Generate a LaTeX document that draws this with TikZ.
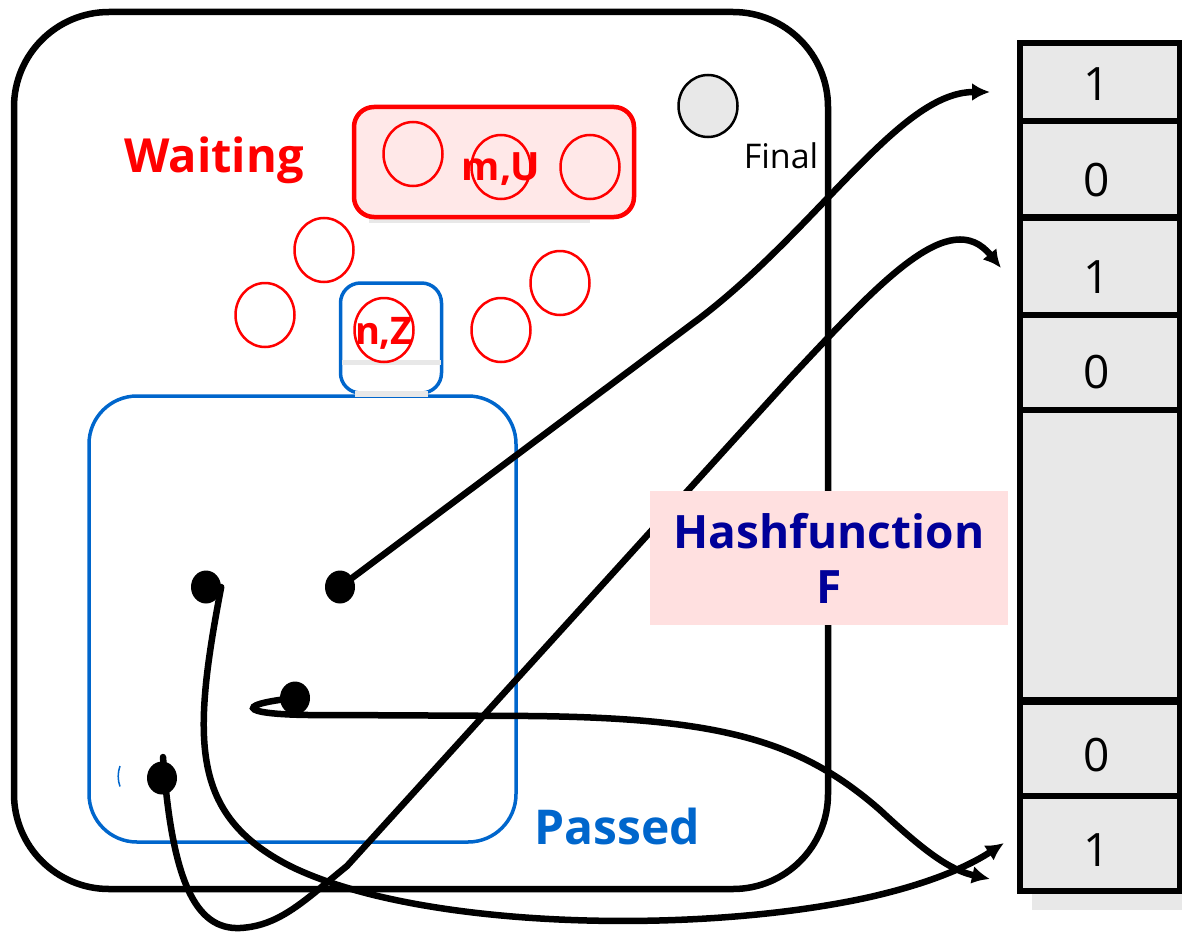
\documentclass[tikz,border=0pt]{standalone}
\usepackage{fontspec}
\setmainfont{Open Sans}
\usetikzlibrary{shapes.geometric,arrows.meta}
\definecolor{wred}{RGB}{255,0,0}
\definecolor{wpink}{RGB}{255,232,232}
\definecolor{hpink}{RGB}{255,224,224}
\definecolor{pblue}{RGB}{0,102,204}
\definecolor{hblue}{RGB}{0,0,153}
\definecolor{lgray}{RGB}{232,232,232}
\tikzset{
  statecirc/.style={ellipse,draw=wred,line width=2.5pt,minimum width=59pt,minimum height=64pt,inner sep=0pt},
  blackdot/.style={ellipse,fill=black,minimum width=30pt,minimum height=33pt,inner sep=0pt},
  cell/.style={draw=black,fill=lgray,line width=6pt,minimum width=160pt,inner sep=0pt},
  digit/.style={inner sep=0pt,text height=33pt,text depth=0pt,font=\fontsize{46}{50}\selectfont},
  conn/.style={line width=6.5pt,line cap=round,-{Latex[length=18pt,width=18pt]}},
}
\begin{document}
\begin{tikzpicture}[x=1pt,y=-1pt]
\useasboundingbox (0,0) rectangle (1182,931);
% outer system box
\draw[line width=6.5pt,rounded corners=95pt] (14,12) rectangle (828,889);
% waiting label
\node[text=wred,font=\bfseries\fontsize{47}{50}\selectfont] (waiting) at (214,160) {Waiting};
% waiting queue box
\draw[lgray,line width=5pt] (369,220) -- (590,220);
\node[draw=wred,fill=wpink,line width=4.5pt,rounded corners=20pt,minimum width=280pt,minimum height=110pt] (wbox) at (494,162) {};
\node[statecirc] (c1) at (413,154) {};
\node[statecirc] (c2) at (501,167) {};
\node[statecirc] (c3) at (590,167) {};
\node[text=wred,font=\bfseries\fontsize{39}{42}\selectfont] (mu) at (501,169) {m,U};
% loose waiting states
\node[statecirc] (c4) at (324,250) {};
\node[statecirc] (c5) at (265,315) {};
\node[statecirc] (c6) at (560,283) {};
\node[statecirc] (c7) at (501,330) {};
% final
\node[ellipse,draw=black,fill=lgray,line width=2.5pt,minimum width=59pt,minimum height=62pt] (final) at (708,106) {};
\node[font=\fontsize{34}{38}\selectfont,anchor=center] (finaltxt) at (781,156) {Final};
% passed
\draw[pblue,line width=3.5pt,rounded corners=48pt] (89,396) rectangle (516,842);
\node[draw=pblue,fill=white,line width=3.5pt,rounded corners=20pt,minimum width=101pt,minimum height=110pt] (nbox) at (391,338) {};
\draw[lgray,line width=5pt] (342,362) -- (441,362);
\draw[lgray,line width=6pt] (355,394) -- (428,394);
\node[statecirc] (c8) at (384,330) {};
\node[text=wred,font=\bfseries\fontsize{38}{40}\selectfont] (nz) at (384,333) {n,Z};
\node[text=pblue,font=\bfseries\fontsize{48}{50}\selectfont] (passed) at (617,826) {Passed};
\draw[pblue,line width=1.5pt] (120,766) arc[start angle=160,end angle=200,radius=30pt];
% hash table
\fill[lgray] (1032,893) rectangle (1182,910);
\node[cell,minimum height=78pt] (r1) at (1099.5,82) {};
\node[cell,minimum height=96pt] (r2) at (1099.5,169) {};
\node[cell,minimum height=97pt] (r3) at (1099.5,266.5) {};
\node[cell,minimum height=95pt] (r4) at (1099.5,362.5) {};
\node[cell,minimum height=290pt] (r5) at (1099.5,555) {};
\node[cell,minimum height=95pt] (r6) at (1099.5,749.5) {};
\node[cell,minimum height=95pt] (r7) at (1099.5,843.5) {};
\node[digit] (v1) at (1097,84) {1};
\node[digit] (v2) at (1097,180) {0};
\node[digit] (v3) at (1097,277) {1};
\node[digit] (v4) at (1097,372) {0};
\node[digit] (v6) at (1097,755) {0};
\node[digit] (v7) at (1097,850) {1};
% dots
\node[blackdot] (d1) at (206,587) {};
\node[blackdot] (d2) at (340,587) {};
\node[blackdot] (d3) at (295,698) {};
\node[blackdot] (d4) at (162,778) {};
% arrow endpoints
\coordinate (e1) at (990,92);
\coordinate (e2) at (1001,268);
\coordinate (e3) at (990,879);
\coordinate (e4) at (1004,843);
\coordinate (t4) at (163,757);
% connectors
\draw[conn] (d2.center) -- (700,318) .. controls (820,226) and (900,92) .. (e1);
\draw[conn] (t4) .. controls (172,880) and (195,930) .. (240,928) .. controls (280,926) and (305,900) .. (347,866) -- (790,378) .. controls (880,282) and (950,205) .. (e2);
\draw[conn] (d1.east) .. controls (192,740) and (190,815) .. (290,866) .. controls (420,930) and (700,935) .. (870,897) .. controls (940,881) and (975,862) .. (e4);
\draw[conn] (d3.center) .. controls (230,705) and (240,716) .. (330,715) -- (530,716) .. controls (720,718) and (800,740) .. (880,810) .. controls (925,852) and (950,870) .. (e3);
% hash function label (on top)
\node[fill=hpink,minimum width=358pt,minimum height=134pt,text=hblue,align=center,font=\bfseries\fontsize{46}{55}\selectfont] (hash) at (829,558) {Hashfunction\\F};
\end{tikzpicture}
\end{document}
